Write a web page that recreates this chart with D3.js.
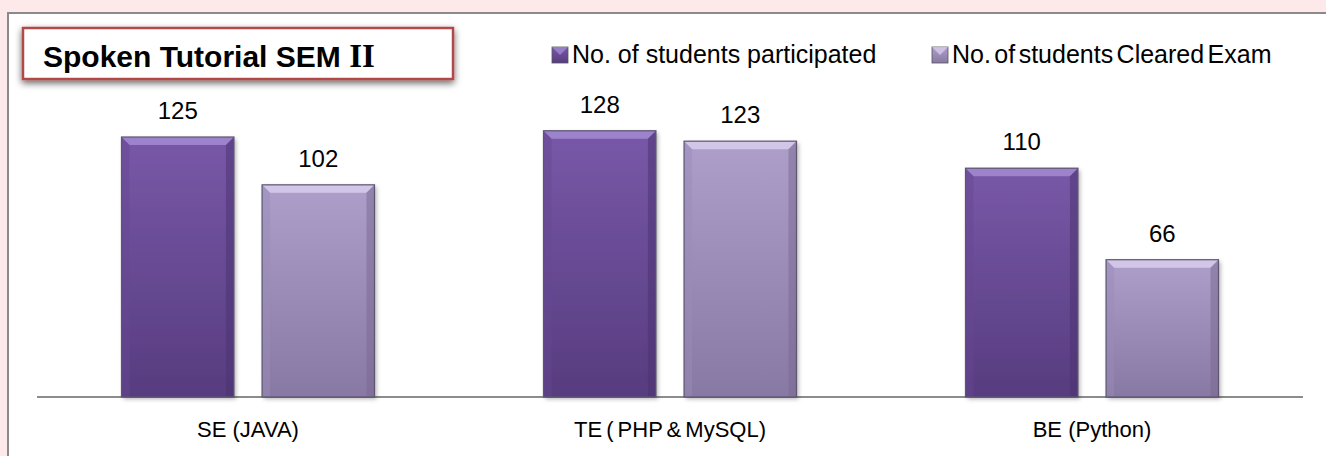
<!DOCTYPE html>
<html><head><meta charset="utf-8">
<script src="https://cdn.jsdelivr.net/npm/d3@7"></script>
<style>html,body{margin:0;padding:0;background:#fde9e9;}svg{display:block;}</style>
</head><body>
<svg id="chart" width="1326" height="456"></svg>
<script>
const categories = ["SE (JAVA)", "TE ( PHP & MySQL)", "BE (Python)"];
const seriesNames = ["No. of students participated", "No. of students Cleared Exam"];
const participated = [125, 128, 110];
const cleared = [102, 123, 66];
const title = "Spoken Tutorial SEM ";
const titleRoman = "II";

const svg = d3.select("#chart");
const W = 1326, H = 456;
const defs = svg.append("defs");

// panel
svg.append("rect").attr("x", 8).attr("y", 13).attr("width", W + 10).attr("height", H + 10)
  .attr("fill", "#fff").attr("stroke", "#8a8a8a").attr("stroke-width", 2);

const x0 = d3.scaleBand().domain(categories).range([37, 1303]).paddingInner(0).paddingOuter(0);
const groupW = 253;
const x1 = d3.scaleBand().domain(seriesNames).range([0, groupW]).paddingInner(0.2).paddingOuter(0);
const y = d3.scaleLinear().domain([0, 140]).range([397, 397 - 2.08 * 140]);

const palettes = [
  {top: "#7858a8", bot: "#573c7f", hi: "#a088d0", lo: "#4a3170", side: "#654893"},
  {top: "#ad9eca", bot: "#8878a4", hi: "#d6cbeb", lo: "#776890", side: "#9a8bb8"}
];
palettes.forEach((p, i) => {
  const g = defs.append("linearGradient").attr("id", "g" + i).attr("x1", 0).attr("y1", 0).attr("x2", 0).attr("y2", 1);
  g.append("stop").attr("offset", "0%").attr("stop-color", p.top);
  g.append("stop").attr("offset", "100%").attr("stop-color", p.bot);
});
const f = defs.append("filter").attr("id", "sh").attr("x", "-20%").attr("y", "-20%").attr("width", "140%").attr("height", "140%");
f.append("feDropShadow").attr("dx", 2).attr("dy", 2).attr("stdDeviation", 2).attr("flood-color", "#000").attr("flood-opacity", 0.3);
const f2 = defs.append("filter").attr("id", "tsh").attr("x", "-10%").attr("y", "-30%").attr("width", "120%").attr("height", "160%");
f2.append("feDropShadow").attr("dx", 0).attr("dy", 3).attr("stdDeviation", 3.5).attr("flood-color", "#000").attr("flood-opacity", 0.6);

// axis baseline
svg.append("line").attr("x1", 37).attr("x2", 1303).attr("y1", y(0)).attr("y2", y(0))
  .attr("stroke", "#8c8c8c").attr("stroke-width", 2);

const data = [];
categories.forEach((c, ci) => {
  [participated[ci], cleared[ci]].forEach((v, si) => data.push({c, s: seriesNames[si], si, v}));
});
const bx = d => x0(d.c) + (x0.bandwidth() - groupW) / 2 + x1(d.s);
const bw = x1.bandwidth();
const bev = 8;

const bars = svg.append("g").selectAll("g").data(data).join("g");
bars.append("rect").attr("x", bx).attr("y", d => y(d.v)).attr("width", bw).attr("height", d => y(0) - y(d.v))
  .attr("fill", d => `url(#g${d.si})`).attr("filter", "url(#sh)");
bars.append("path").attr("d", d => {
  const x = bx(d), t = y(d.v);
  return `M${x},${t}L${x + bw},${t}L${x + bw - bev},${t + bev}L${x + bev},${t + bev}Z`;
}).attr("fill", d => palettes[d.si].hi).attr("opacity", 0.9);
bars.append("path").attr("d", d => {
  const x = bx(d), t = y(d.v), b = y(0);
  return `M${x},${t}L${x + bev},${t + bev}L${x + bev},${b}L${x},${b}Z`;
}).attr("fill", d => palettes[d.si].side).attr("opacity", 0.45);
bars.append("path").attr("d", d => {
  const x = bx(d), t = y(d.v), b = y(0);
  return `M${x + bw},${t}L${x + bw - bev},${t + bev}L${x + bw - bev},${b}L${x + bw},${b}Z`;
}).attr("fill", d => palettes[d.si].lo).attr("opacity", 0.5);
bars.append("rect").attr("x", bx).attr("y", d => y(d.v)).attr("width", bw).attr("height", d => y(0) - y(d.v))
  .attr("fill", "none").attr("stroke", "#5e5670").attr("stroke-width", 1.2);

// value labels
svg.append("g").selectAll("text").data(data).join("text")
  .attr("x", d => bx(d) + bw / 2).attr("y", d => y(d.v) - 18)
  .attr("text-anchor", "middle").attr("font-family", "Liberation Sans, Arial, sans-serif")
  .attr("font-size", 24).attr("fill", "#000").text(d => d.v);

// category labels
svg.append("g").selectAll("text").data(categories).join("text")
  .attr("x", d => x0(d) + x0.bandwidth() / 2).attr("y", 437)
  .attr("text-anchor", "middle").attr("font-family", "Liberation Sans, Arial, sans-serif")
  .attr("font-size", 22).attr("fill", "#000")
  .attr("word-spacing", (d, i) => i === 1 ? -2 : 0).text(d => d);

// title box
svg.append("rect").attr("x", 23).attr("y", 28).attr("width", 430).attr("height", 51)
  .attr("fill", "#fff").attr("stroke", "#b24a4a").attr("stroke-width", 2.5).attr("filter", "url(#tsh)");
const tt = svg.append("text").attr("x", 43).attr("y", 67).attr("font-size", 30).attr("font-weight", "bold")
  .attr("font-family", "Liberation Sans, Arial, sans-serif").attr("fill", "#000");
tt.append("tspan").text(title);
tt.append("tspan").attr("font-family", "Liberation Serif, Times New Roman, serif").attr("font-size", 33).text(titleRoman);

// legend
const legX = [552, 932];
const legWordSpacing = [0, -3.5];
seriesNames.forEach((s, i) => {
  const g = svg.append("g").attr("transform", `translate(${legX[i]},47)`);
  g.append("rect").attr("x", 0).attr("y", 0).attr("width", 16).attr("height", 16)
    .attr("fill", `url(#g${i})`).attr("stroke", "#555").attr("stroke-width", 0.8);
  g.append("path").attr("d", "M0,0L16,0L8,8Z").attr("fill", palettes[i].hi).attr("opacity", 0.8);
  g.append("text").attr("x", 20).attr("y", 16).attr("font-size", 25)
    .attr("font-family", "Liberation Sans, Arial, sans-serif").attr("fill", "#000")
    .attr("word-spacing", legWordSpacing[i]).text(s);
});
</script>
</body></html>
